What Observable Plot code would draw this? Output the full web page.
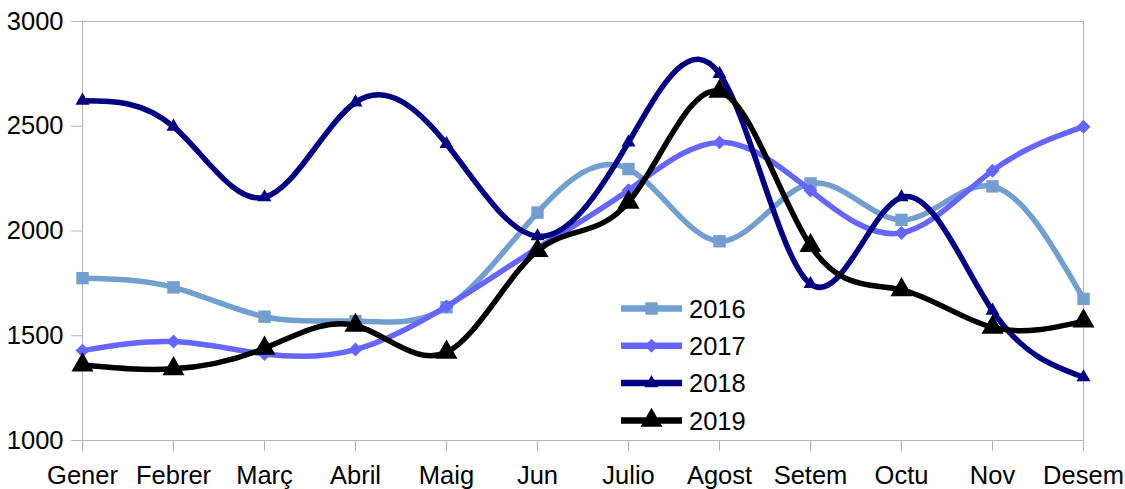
<!DOCTYPE html>
<html>
<head>
<meta charset="utf-8">
<script src="https://cdn.jsdelivr.net/npm/d3@7"></script>
<script src="https://cdn.jsdelivr.net/npm/@observablehq/plot@0.6"></script>
<style>
  html, body { margin: 0; padding: 0; background: #fff; }
  #wrap { position: relative; width: 1125px; height: 489px; font-family: "Liberation Sans", Arial, sans-serif; }
  #legend { position: absolute; left: 0; top: 0; pointer-events: none; }
</style>
</head>
<body>
<div id="wrap"></div>
<script>
const months = ["Gener","Febrer","Març","Abril","Maig","Jun","Julio","Agost","Setem","Octu","Nov","Desem"];
const years = ["2016","2017","2018","2019"];
const v2016 = [1775,1731,1591,1570,1636,2088,2296,1951,2227,2053,2213,1676];
const v2017 = [1429,1472,1413,1434,1640,1918,2195,2423,2193,1991,2288,2498];
const v2018 = [2622,2498,2161,2614,2415,1975,2423,2750,1747,2161,1620,1302];
const v2019 = [1360,1342,1440,1549,1421,1906,2137,2666,1930,1719,1540,1570];
const yTicks = [1000,1500,2000,2500,3000];

const colors = ["#729fcf","#6666ff","#000080","#000000"];
const symbols = ["square","diamond2","triangle","triangle"];
const radii = [7,6.3,5.2,8.2];
const seriesValues = [v2016, v2017, v2018, v2019];

const series = years.map((y, i) => ({
  year: y,
  color: colors[i],
  symbol: symbols[i],
  r: radii[i],
  data: months.map((m, j) => ({month: m, value: seriesValues[i][j]}))
}));

const marks = [
  Plot.frame({stroke: "#b3b3b3"}),
  Plot.axisY({ticks: yTicks, tickSize: 11, tickPadding: 8, fontSize: 25.5, stroke: "#b3b3b3", fill: "black", tickFormat: d => String(d), label: null}),
  Plot.axisX({tickSize: 11, tickPadding: 14, fontSize: 25.5, stroke: "#b3b3b3", fill: "black", label: null})
];
for (const s of series) {
  marks.push(Plot.line(s.data, {x: "month", y: "value", stroke: s.color, strokeWidth: 5.5, curve: "natural"}));
  marks.push(Plot.dot(s.data, {x: "month", y: "value", fill: s.color, stroke: "none", symbol: s.symbol, r: s.r}));
}

const chart = Plot.plot({
  width: 1125,
  height: 489,
  marginTop: 21,
  marginLeft: 82,
  marginRight: 42,
  marginBottom: 49,
  style: {fontFamily: "Liberation Sans, Arial, sans-serif", fontSize: "25px", color: "black", background: "white"},
  x: {type: "point", domain: months, padding: 0},
  y: {domain: [1000, 3000], nice: false},
  marks
});
const wrap = document.getElementById("wrap");
wrap.appendChild(chart);

// Legend overlay
const symMap = {square: d3.symbolSquare, diamond2: d3.symbolDiamond2, triangle: d3.symbolTriangle};
const leg = d3.select(wrap).append("svg")
  .attr("id", "legend").attr("width", 1125).attr("height", 489);
const lx0 = 621, lx1 = 682, tx = 689, ly0 = 308.5, dy = 37.3;
series.forEach((s, i) => {
  const y = ly0 + i * dy;
  const g = leg.append("g");
  g.append("line").attr("x1", lx0).attr("x2", lx1).attr("y1", y).attr("y2", y)
    .attr("stroke", s.color).attr("stroke-width", 6.5);
  g.append("path").attr("transform", `translate(${(lx0 + lx1) / 2},${y})`)
    .attr("d", d3.symbol(symMap[s.symbol], Math.PI * s.r * s.r)())
    .attr("fill", s.color);
  g.append("text").attr("x", tx).attr("y", y).attr("dy", "0.36em")
    .attr("font-size", 25.5).attr("font-family", "Liberation Sans, Arial, sans-serif")
    .attr("fill", "black").text(s.year);
});
</script>
</body>
</html>
